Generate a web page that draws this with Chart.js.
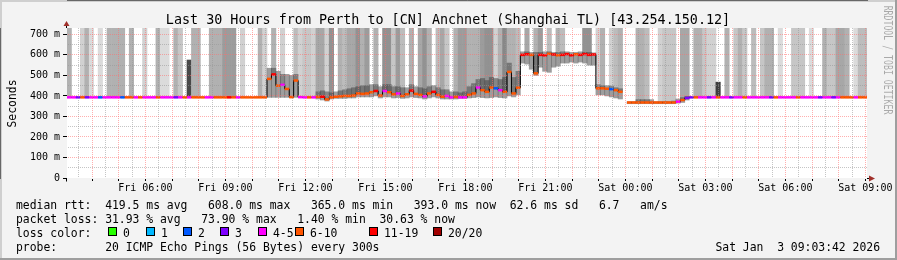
<!DOCTYPE html>
<html lang="en">
<head>
<meta charset="UTF-8">
<title>Last 30 Hours from Perth to [CN] Anchnet (Shanghai TL)</title>
<script src="https://cdn.jsdelivr.net/npm/chart.js@4.4.1/dist/chart.umd.min.js"></script>
<style>
    body { margin: 0; background: #f3f3f3; }
    #wrap { width: 897px; height: 260px; }
</style>
</head>
<body>
<div id="wrap"><canvas id="smokeChart" width="897" height="260"></canvas></div>

<script>
    const FONT = "'DejaVu Sans Mono', monospace";

    // time axis: hours since Fri 00:00, graph ends Sat 09:03:42, one bin = 10 minutes
    const startHour = 3 + 3 / 60 + 42 / 3600;
    const spanHours = 30;
    const binMinutes = 10;

    const xLabelHours = [6, 9, 12, 15, 18, 21, 24, 27, 30, 33];
    const xLabels = ['Fri 06:00', 'Fri 09:00', 'Fri 12:00', 'Fri 15:00', 'Fri 18:00',
                     'Fri 21:00', 'Sat 00:00', 'Sat 03:00', 'Sat 06:00', 'Sat 09:00'];
    const yTickValues = [0, 50, 100, 150, 200, 250, 300, 350, 400, 450, 500, 550, 600, 650, 700];

    // loss colour classes (lost pings out of 20)
    const lossFrom = [0, 1, 2, 3, 4, 6, 11, 20];
    const lossNames = ['0', '1', '2', '3', '4-5', '6-10', '11-19', '20/20'];
    const lossColors = ['#26ff00', '#00b8ff', '#0059ff', '#7e00ff', '#ff00ff', '#ff5500', '#ff0000', '#a10000'];

    // median rtt per bin (ms)
    const median = [
        393, 393, 393, 393, 393, 393, 393, 393, 393, 393,
        393, 393, 393, 393, 393, 393, 393, 393, 393, 393,
        393, 393, 393, 393, 393, 393, 393, 393, 393, 393,
        393, 393, 393, 393, 393, 393, 393, 393, 393, 393,
        393, 393, 393, 393, 393, 483, 505, 450, 454, 434,
        394, 475, 394, 393, 393, 393, 395, 396, 383, 393,
        396, 398, 400, 400, 402, 412, 410, 412, 418, 424,
        402, 424, 418, 408, 412, 400, 408, 426, 410, 405,
        398, 412, 420, 405, 396, 400, 393, 395, 393, 393,
        405, 412, 441, 428, 420, 441, 437, 428, 420, 517,
        412, 440, 600, 603, 600, 510, 600, 598, 605, 602,
        598, 600, 604, 598, 603, 600, 604, 600, 602, 437,
        437, 435, 433, 428, 420, null, 368, 368, 368, 368,
        368, 368, 368, 368, 368, 368, 368, 372, 380, 390,
        393, 393, 393, 393, 393, 393, 393, 393, 393, 393,
        393, 393, 393, 393, 393, 393, 393, 393, 393, 393,
        393, 393, 393, 393, 393, 393, 393, 393, 393, 393,
        393, 393, 393, 393, 393, 393, 393, 393, 393, 393
    ];

    // lost pings per bin (of 20)
    const lost = [
        5, 5, 3, 7, 3, 5, 5, 2, 5, 5,
        5, 5, 2, 7, 7, 5, 7, 5, 5, 5,
        7, 5, 5, 5, 3, 5, 7, 5, 7, 7,
        7, 5, 5, 7, 7, 7, 12, 7, 5, 7,
        7, 7, 7, 7, 7, 7, 12, 7, 5, 7,
        7, 7, 5, 5, 7, 5, 7, 12, 7, 7,
        7, 7, 7, 7, 7, 7, 7, 7, 7, 12,
        7, 5, 7, 7, 5, 7, 7, 12, 7, 7,
        5, 7, 12, 7, 7, 5, 5, 7, 5, 5,
        7, 7, 5, 7, 7, 7, 2, 5, 7, 7,
        7, 7, 12, 12, 7, 7, 12, 12, 7, 12,
        7, 12, 12, 12, 7, 12, 12, 12, 12, 7,
        7, 7, 2, 7, 7, 7, 7, 7, 7, 7,
        7, 7, 7, 7, 7, 7, 7, 5, 7, 3,
        3, 7, 5, 5, 3, 5, 7, 5, 5, 3,
        5, 5, 7, 5, 5, 5, 5, 5, 3, 7,
        5, 5, 5, 5, 7, 5, 5, 5, 5, 3,
        5, 5, 3, 5, 7, 7, 7, 5, 7, 7
    ];

    // dense smoke around the median (ms), null = none
    const smokeLo = [
        null, null, null, null, null, null, null, null, null, null,
        null, null, null, null, null, null, null, null, null, null,
        null, null, null, null, null, null, null, null, null, null,
        null, null, null, null, null, null, null, null, null, null,
        null, null, null, null, null, 393, 393, 393, 393, 393,
        393, 393, null, null, null, null, 385, 380, 375, 385,
        388, 388, 388, 390, 390, 395, 395, 395, 395, 400,
        390, 395, 395, 390, 392, 388, 390, 395, 392, 390,
        385, 390, 395, 390, 385, 385, 385, 385, 388, 388,
        390, 392, 395, 392, 390, 392, 395, 392, 390, 400,
        395, 405, 560, 555, 530, 500, 540, 520, 515, 540,
        545, 560, 560, 565, 560, 565, 560, 550, 550, 405,
        405, 400, 395, 390, 385, null, 362, 362, 362, 362,
        362, 362, 362, 362, 362, 362, 362, 365, 368, 380,
        null, null, null, null, null, null, null, null, null, null,
        null, null, null, null, null, null, null, null, null, null,
        null, null, null, null, null, null, null, null, null, null,
        null, null, null, null, null, null, null, null, null, null
    ];
    const smokeHi = [
        null, null, null, null, null, null, null, null, null, null,
        null, null, null, null, null, null, null, null, null, null,
        null, null, null, null, null, null, null, null, null, null,
        null, null, null, null, null, null, null, null, null, null,
        null, null, null, null, null, 535, 535, 520, 505, 505,
        500, 505, null, null, null, null, 420, 425, 420, 415,
        420, 425, 430, 435, 440, 445, 450, 450, 455, 455,
        445, 455, 455, 445, 445, 440, 440, 455, 445, 440,
        435, 445, 450, 440, 430, 430, 420, 420, 415, 420,
        445, 460, 480, 485, 475, 490, 485, 480, 490, 560,
        490, 520, 615, 615, 612, 612, 612, 615, 615, 612,
        612, 615, 615, 612, 612, 615, 612, 612, 610, 455,
        450, 450, 448, 440, 435, null, 372, 372, 382, 382,
        382, 382, 372, 372, 372, 372, 375, 385, 392, 398,
        null, null, null, null, null, null, null, null, null, null,
        null, null, null, null, null, null, null, null, null, null,
        null, null, null, null, null, null, null, null, null, null,
        null, null, null, null, null, null, null, null, null, null
    ];

    // upper smoke tail: top of the slow pings (ms, 1000 = above the graph), null = none
    const tailTop = [
        1000, null, null, 1000, 1000, 1000, null, 1000, null, 1000,
        1000, 1000, 1000, null, 1000, null, null, 1000, null, null,
        1000, 1000, 1000, null, 1000, 1000, null, 575, 1000, 1000,
        null, null, 1000, 1000, 1000, 1000, 1000, 1000, null, 1000,
        null, null, null, 1000, 1000, null, 1000, null, 1000, null,
        null, 1000, 1000, 1000, 1000, 1000, 1000, 1000, 1000, 1000,
        null, 1000, 1000, 1000, 1000, 1000, 1000, 1000, null, 1000,
        null, 1000, 1000, 1000, 1000, 1000, null, 1000, null, 1000,
        1000, 1000, null, 1000, 1000, 1000, null, 1000, 1000, 1000,
        1000, 1000, 1000, 1000, 1000, 1000, 1000, 1000, 1000, 1000,
        1000, 1000, null, 1000, null, 1000, 1000, null, 1000, null,
        1000, 1000, null, null, null, null, 1000, 1000, null, 1000,
        1000, null, 1000, 1000, 1000, null, null, null, 1000, 1000,
        1000, null, null, 1000, 1000, 1000, 1000, null, 1000, 1000,
        null, 1000, 1000, 1000, 1000, 1000, 467, null, 1000, null,
        1000, 1000, 1000, null, 1000, null, 1000, 1000, 1000, null,
        1000, null, null, 1000, 1000, 1000, null, 1000, null, null,
        1000, 1000, 1000, 1000, 1000, 1000, null, 1000, 1000, 1000
    ];
    // number of pings in that tail (sets the grey density)
    const tailPings = [
        6, 0, 0, 3, 6, 2, 0, 2, 0, 6,
        6, 6, 6, 0, 6, 0, 0, 3, 0, 0,
        6, 2, 2, 0, 6, 4, 0, 16, 6, 6,
        0, 0, 6, 6, 6, 8, 8, 8, 0, 3,
        0, 0, 0, 6, 3, 0, 6, 0, 3, 0,
        0, 5, 3, 4, 4, 3, 7, 7, 3, 9,
        0, 6, 5, 7, 7, 9, 6, 8, 0, 6,
        0, 9, 9, 4, 8, 5, 0, 6, 0, 7,
        9, 6, 0, 5, 7, 4, 0, 6, 8, 8,
        6, 6, 6, 8, 9, 9, 3, 6, 10, 6,
        6, 5, 0, 7, 0, 6, 8, 0, 5, 0,
        6, 5, 0, 0, 0, 0, 9, 9, 0, 3,
        6, 0, 3, 5, 6, 0, 0, 0, 6, 6,
        5, 0, 0, 3, 4, 4, 4, 0, 7, 7,
        0, 6, 6, 4, 3, 3, 17, 0, 6, 0,
        4, 6, 4, 0, 5, 0, 4, 6, 6, 0,
        2, 0, 0, 4, 4, 4, 0, 2, 0, 0,
        6, 4, 4, 7, 7, 6, 0, 2, 5, 5
    ];

    const legendLines = [
        'median rtt:  419.5 ms avg   608.0 ms max   365.0 ms min   393.0 ms now  62.6 ms sd   6.7   am/s',
        'packet loss: 31.93 % avg   73.90 % max   1.40 % min  30.63 % now',
        'loss color:',
        'probe:       20 ICMP Echo Pings (56 Bytes) every 300s'
    ];

    // ---- helpers ----
    const binX = median.map((_, i) => startHour + (i + 0.5) * binMinutes / 60);
    const gridHours = [];
    for (let h = 3.5; h <= 33; h += 0.5) gridHours.push(h);

    function lossColor(n) {
        let k = 0;
        for (let j = 0; j < lossFrom.length; j++) if (n >= lossFrom[j]) k = j;
        return lossColors[k];
    }
    function tailShade(n) {
        const g = Math.max(40, 240 - 10.5 * n);
        return 'rgb(' + g + ',' + g + ',' + g + ')';
    }

    const majorGrid = 'rgba(255,110,110,0.55)';
    const minorGrid = 'rgba(150,150,150,0.55)';

    // background, frame, texts and axis arrows
    const smokepingFrame = {
        id: 'smokepingFrame',
        beforeDraw(chart) {
            const {ctx, chartArea: a, width, height} = chart;
            ctx.save();
            ctx.fillStyle = '#f3f3f3';
            ctx.fillRect(0, 0, width, height);
            ctx.fillStyle = '#cfcfcf';
            ctx.fillRect(0, 0, width, 2);
            ctx.fillRect(0, 0, 2, height);
            ctx.fillStyle = '#9e9e9e';
            ctx.fillRect(0, height - 2, width, 2);
            ctx.fillRect(width - 2, 0, 2, height);
            ctx.fillStyle = '#ffffff';
            ctx.fillRect(a.left, a.top, a.right - a.left, a.bottom - a.top);
            ctx.restore();
        },
        afterDraw(chart) {
            const {ctx, chartArea: a} = chart;
            ctx.save();
            ctx.fillStyle = '#000';
            ctx.textBaseline = 'alphabetic';

            // title
            ctx.font = '13.4px ' + FONT;
            ctx.textAlign = 'center';
            ctx.fillText('Last 30 Hours from Perth to [CN] Anchnet (Shanghai TL) [43.254.150.12]', 448, 23.5);

            // y axis title
            ctx.font = '11.4px ' + FONT;
            ctx.save();
            ctx.translate(15.5, 103.5);
            ctx.rotate(-Math.PI / 2);
            ctx.fillText('Seconds', 0, 0);
            ctx.restore();

            // watermark
            ctx.save();
            ctx.fillStyle = 'rgba(0,0,0,0.3)';
            ctx.translate(884, 60);
            ctx.rotate(Math.PI / 2);
            ctx.scale(0.72, 1);
            ctx.fillText('RRDTOOL / TOBI OETIKER', 0, 0);
            ctx.restore();

            // legend
            ctx.textAlign = 'left';
            const base = [208.5, 222.5, 236.5, 250.5];
            legendLines.forEach((s, i) => ctx.fillText(s, 16, base[i]));
            const swatchX = [108, 146, 183, 220, 258, 295, 369, 433];
            lossNames.forEach((name, i) => {
                ctx.fillStyle = lossColors[i];
                ctx.fillRect(swatchX[i] + 0.5, 227.5, 8, 8);
                ctx.strokeStyle = '#000';
                ctx.lineWidth = 1;
                ctx.strokeRect(swatchX[i] + 0.5, 227.5, 8, 8);
                ctx.fillStyle = '#000';
                ctx.fillText(name, swatchX[i] + 15, base[2]);
            });
            ctx.textAlign = 'right';
            ctx.fillText('Sat Jan  3 09:03:42 2026', 880, base[3]);

            // axis arrows
            const x0 = Math.round(a.left) - 0.5;
            const y0 = Math.round(a.bottom) + 0.5;
            ctx.strokeStyle = '#000';
            ctx.beginPath();
            ctx.moveTo(x0, a.top); ctx.lineTo(x0, a.top - 3);
            ctx.moveTo(x0, y0); ctx.lineTo(x0, y0 + 3);
            ctx.moveTo(a.right, y0); ctx.lineTo(a.right + 2, y0);
            ctx.stroke();
            ctx.fillStyle = '#a0302a';
            ctx.beginPath();
            ctx.moveTo(x0, a.top - 7); ctx.lineTo(x0 - 3, a.top - 2); ctx.lineTo(x0 + 3, a.top - 2);
            ctx.closePath(); ctx.fill();
            ctx.beginPath();
            ctx.moveTo(a.right + 8, y0); ctx.lineTo(a.right + 2, y0 - 3); ctx.lineTo(a.right + 2, y0 + 3);
            ctx.closePath(); ctx.fill();
            ctx.restore();
        }
    };

    new Chart(document.getElementById('smokeChart'), {
        type: 'bar',
        data: {
            datasets: [
                {
                    // loss coloured median marks
                    type: 'line',
                    order: 1,
                    data: binX.map((x, i) => ({x: x, y: median[i]})),
                    showLine: false,
                    pointStyle: 'line',
                    pointRadius: 2.25,
                    pointHoverRadius: 2.25,
                    pointBorderWidth: 2.5,
                    pointBorderColor: lost.map(lossColor)
                },
                {
                    type: 'line',
                    order: 2,
                    data: binX.map((x, i) => ({x: x, y: median[i]})),
                    borderColor: '#000',
                    borderWidth: 1,
                    stepped: 'middle',
                    pointRadius: 0,
                    spanGaps: false
                },
                {
                    order: 3,
                    data: binX.map((x, i) => ({x: x, y: smokeLo[i] == null ? null : [smokeLo[i], smokeHi[i]]})),
                    backgroundColor: 'rgba(60,60,60,0.5)',
                    grouped: false,
                    barPercentage: 1,
                    categoryPercentage: 1,
                    borderWidth: 0,
                    clip: 0
                },
                {
                    order: 4,
                    data: binX.map((x, i) => ({x: x, y: tailTop[i] == null ? null : [median[i], tailTop[i]]})),
                    backgroundColor: tailPings.map(tailShade),
                    grouped: false,
                    barPercentage: 1,
                    categoryPercentage: 1,
                    borderWidth: 0,
                    clip: 0
                }
            ]
        },
        options: {
            responsive: false,
            animation: false,
            events: [],
            layout: { padding: { top: 28, right: 30, bottom: 62, left: 0 } },
            plugins: {
                legend: { display: false },
                tooltip: { enabled: false },
                title: { display: false }
            },
            scales: {
                x: {
                    type: 'linear',
                    min: startHour,
                    max: startHour + spanHours,
                    offset: false,
                    afterFit: s => { s.height = 20; },
                    afterBuildTicks: s => { s.ticks = gridHours.map(v => ({value: v})); },
                    ticks: {
                        autoSkip: false,
                        maxRotation: 0,
                        minRotation: 0,
                        padding: 1,
                        color: '#000',
                        font: { family: FONT, size: 10 },
                        callback: v => {
                            const k = xLabelHours.indexOf(v);
                            return k < 0 ? '' : xLabels[k];
                        }
                    },
                    grid: {
                        z: 1,
                        offset: false,
                        color: c => (c.tick && c.tick.value % 1 === 0) ? majorGrid : minorGrid,
                        tickLength: 3,
                        tickColor: c => (c.tick && c.tick.value % 1 === 0) ? '#000' : 'transparent'
                    },
                    border: { display: true, color: '#000', width: 1, dash: [1, 1] }
                },
                y: {
                    type: 'linear',
                    min: 0,
                    max: 731,
                    afterFit: s => { s.width = 67; },
                    afterBuildTicks: s => { s.ticks = yTickValues.map(v => ({value: v})); },
                    ticks: {
                        autoSkip: false,
                        padding: 3,
                        color: '#000',
                        font: { family: FONT, size: 10 },
                        callback: v => v % 100 ? '' : (v ? v + ' m' : '0')
                    },
                    grid: {
                        z: 1,
                        color: c => {
                            if (!c.tick || c.tick.value === 0) return 'transparent';
                            return c.tick.value % 100 ? minorGrid : majorGrid;
                        },
                        tickLength: 4,
                        tickColor: c => (c.tick && c.tick.value % 100 === 0) ? '#000' : 'transparent'
                    },
                    border: { display: true, color: '#000', width: 1, dash: [1, 1] }
                }
            }
        },
        plugins: [smokepingFrame]
    });
</script>
</body>
</html>
